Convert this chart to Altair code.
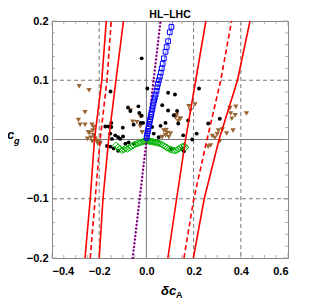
import altair as alt
import pandas as pd

# ---------------- data ----------------
# red bands (x at given y levels)
band_y = [-0.2, -0.1, 0.0, 0.1, 0.2]
red_left_solid_a = [-0.260, -0.238, -0.220, -0.189, -0.170]
red_left_dashed = [-0.238, -0.217, -0.196, -0.167, -0.149]
red_left_solid_b = [-0.200, -0.184, -0.160, -0.129, -0.097]
red_right_solid_a = [0.091, 0.128, 0.166, 0.209, 0.252]
red_right_dashed = [0.159, 0.201, 0.257, 0.315, 0.361]
red_right_solid_b = [0.199, 0.245, 0.308, 0.386, 0.439]

# purple dotted line
purple_x = [-0.058, 0.060]
purple_y = [-0.200, 0.200]

# blue line and squares
blue_line_x = [0.000, 0.112]
blue_line_y = [0.000, 0.200]
blue_sq_x = [0.106, 0.099, 0.092, 0.086, 0.081, 0.074, 0.069, 0.065, 0.061, 0.057,
             0.053, 0.049, 0.046, 0.043, 0.039, 0.036, 0.033, 0.030, 0.027, 0.025,
             0.022, 0.020, 0.018, 0.016, 0.014, 0.012, 0.010, 0.008, 0.006, 0.004,
             0.002, 0.001]
blue_sq_y = [0.190, 0.181, 0.166, 0.156, 0.148, 0.137, 0.128, 0.120, 0.113, 0.106,
             0.100, 0.094, 0.088, 0.082, 0.076, 0.071, 0.066, 0.061, 0.056, 0.051,
             0.046, 0.042, 0.038, 0.034, 0.030, 0.026, 0.022, 0.018, 0.014, 0.010,
             0.006, 0.003]

# black dots
black_x = [-0.020, 0.004, -0.152, 0.092, 0.121, 0.223, 0.067, -0.078, -0.068, -0.034,
           -0.030, -0.020, -0.024, -0.054, 0.092, 0.130, 0.116, 0.311, 0.262, 0.177,
           0.135, 0.060, 0.081, 0.024, 0.031, 0.052, 0.213, 0.156, 0.194, 0.152,
           0.159, 0.105, -0.014,
           -0.174, -0.160, -0.149, -0.149, -0.100, -0.153, -0.132, -0.120, -0.111,
           -0.146, -0.167, -0.153, -0.139, -0.120, -0.089, -0.075, -0.054, -0.099]
black_y = [0.137, 0.086, 0.081, 0.079, 0.076, 0.086, 0.058, 0.054, 0.048, 0.056,
           0.045, 0.040, 0.028, 0.025, 0.049, 0.048, 0.041, 0.035, 0.027, 0.032,
           0.027, 0.023, 0.028, 0.021, 0.010, 0.004, 0.010, 0.007, 0.000, -0.016,
           -0.020, -0.016, 0.028,
           0.022, 0.022, 0.028, 0.021, 0.020, 0.010, 0.007, 0.004, 0.001,
           0.001, -0.011, -0.012, -0.015, -0.019, -0.007, -0.005, -0.007, 0.005]

# brown inverted triangles
brown_x = [-0.285, -0.243, -0.260, -0.288, -0.281, -0.260, -0.231, -0.224, -0.227, -0.241,
           -0.246, -0.224, -0.250, -0.235, -0.217, -0.210, -0.199, -0.206, -0.196, -0.230,
           -0.068, -0.058, -0.040, -0.026, -0.026, -0.018,
           0.074, 0.088, 0.081, 0.067, 0.095, 0.102, 0.084, 0.128, 0.142, 0.123,
           0.145, 0.135, 0.180, 0.206, 0.187,
           0.354, 0.379, 0.357, 0.376, 0.362, 0.424, 0.305, 0.322, 0.340, 0.367,
           0.311, 0.279, 0.272, 0.262, 0.290, 0.300]
brown_y = [0.090, 0.083, 0.046, 0.033, 0.025, 0.025, 0.025, 0.021, 0.015, 0.011,
           0.012, 0.007, 0.001, 0.003, 0.001, -0.002, -0.005, -0.007, -0.007, -0.003,
           0.049, 0.030, 0.029, 0.022, 0.039, 0.012,
           0.015, 0.011, 0.007, 0.004, 0.004, 0.010, 0.016, 0.041, 0.035, 0.037,
           0.035, 0.031, 0.056, 0.059, 0.049,
           0.053, 0.055, 0.044, 0.041, 0.035, 0.044, 0.015, 0.017, 0.010, 0.015,
           -0.003, 0.006, -0.010, -0.012, 0.003, 0.009]

# green open diamonds
green_x = [-0.128, -0.120, -0.112, -0.104, -0.096, -0.088, -0.080, -0.072, -0.064, -0.056,
           -0.048, -0.040, -0.032, -0.024, -0.016, -0.010, -0.005, 0.000, 0.005, 0.010,
           0.015, 0.020, 0.025, 0.030, 0.036, 0.042, 0.048, 0.056, 0.064, 0.072,
           0.080, 0.088, 0.096, 0.104, 0.112, 0.120, 0.128, 0.136, 0.144, 0.152,
           0.160, 0.166]
green_y = [-0.010, -0.013, -0.016, -0.018, -0.017, -0.015, -0.016, -0.014, -0.012, -0.010,
           -0.008, -0.007, -0.006, -0.005, -0.004, -0.003, -0.003, -0.002, -0.002, -0.003,
           -0.003, -0.003, -0.004, -0.004, -0.005, -0.005, -0.006, -0.007, -0.008, -0.010,
           -0.012, -0.014, -0.016, -0.017, -0.018, -0.019, -0.018, -0.016, -0.014, -0.012,
           -0.011, -0.013]

# grid and ticks
grid_x_dashed = [-0.2, 0.2, 0.4]
grid_y_dashed = [-0.1, 0.1]
x_ticks = [-0.4, -0.2, 0.0, 0.2, 0.4, 0.6]
y_ticks = [-0.2, -0.1, 0.0, 0.1, 0.2]
x_minor = [-0.35, -0.3, -0.25, -0.15, -0.1, -0.05, 0.05, 0.1, 0.15, 0.25, 0.3, 0.35, 0.45, 0.5, 0.55]
y_minor = [-0.18, -0.16, -0.14, -0.12, -0.08, -0.06, -0.04, -0.02, 0.02, 0.04, 0.06, 0.08,
           0.12, 0.14, 0.16, 0.18]

# ---------------- build ----------------
W, H = 236, 237
FONT = "Liberation Sans"

xs = alt.Scale(domain=[-0.4, 0.6], nice=False, zero=False)
ys = alt.Scale(domain=[-0.2, 0.2], nice=False, zero=False)
xaxis = alt.Axis(values=x_ticks, format=".1f", title=None, ticks=False, domain=False, grid=False,
                 labelFont=FONT, labelFontWeight="bold", labelFontSize=11, labelColor="black",
                 labelPadding=7)
yaxis = alt.Axis(values=y_ticks, format=".1f", title=None, ticks=False, domain=False, grid=False,
                 labelFont=FONT, labelFontWeight="bold", labelFontSize=11, labelColor="black",
                 labelPadding=4)


def X(f="x"):
    return alt.X(f"{f}:Q", scale=xs, axis=xaxis)


def Y(f="y"):
    return alt.Y(f"{f}:Q", scale=ys, axis=yaxis)


layers = []

# dashed grid
gx = alt.Chart(pd.DataFrame({"x": grid_x_dashed})).mark_rule(
    color="#555555", strokeDash=[4, 3], strokeWidth=0.8).encode(x=X())
gy = alt.Chart(pd.DataFrame({"y": grid_y_dashed})).mark_rule(
    color="#555555", strokeDash=[4, 3], strokeWidth=0.8).encode(y=Y())
zx = alt.Chart(pd.DataFrame({"x": [0.0]})).mark_rule(color="#777777", strokeWidth=1).encode(x=X())
zy = alt.Chart(pd.DataFrame({"y": [0.0]})).mark_rule(color="#777777", strokeWidth=1).encode(y=Y())
layers += [gx, gy, zx, zy]

# frame ticks (inward)
tick_col = "#999999"
dfxM = pd.DataFrame({"x": x_ticks})
dfxm = pd.DataFrame({"x": x_minor})
dfyM = pd.DataFrame({"y": y_ticks})
dfym = pd.DataFrame({"y": y_minor})
for df, L in [(dfxM, 5), (dfxm, 3)]:
    layers.append(alt.Chart(df).mark_rule(color=tick_col, strokeWidth=0.8).encode(
        x=X(), y=alt.value(H), y2=alt.value(H - L)))
    layers.append(alt.Chart(df).mark_rule(color=tick_col, strokeWidth=0.8).encode(
        x=X(), y=alt.value(0), y2=alt.value(L)))
for df, L in [(dfyM, 5), (dfym, 3)]:
    layers.append(alt.Chart(df).mark_rule(color=tick_col, strokeWidth=0.8).encode(
        y=Y(), x=alt.value(0), x2=alt.value(L)))
    layers.append(alt.Chart(df).mark_rule(color=tick_col, strokeWidth=0.8).encode(
        y=Y(), x=alt.value(W), x2=alt.value(W - L)))

# red lines
rows = []
for name, xs_, dashed in [("la", red_left_solid_a, False), ("ld", red_left_dashed, True),
                          ("lb", red_left_solid_b, False), ("ra", red_right_solid_a, False),
                          ("rd", red_right_dashed, True), ("rb", red_right_solid_b, False)]:
    for i, (xv, yv) in enumerate(zip(xs_, band_y)):
        rows.append({"id": name, "x": xv, "y": yv, "o": i, "dashed": dashed})
red = pd.DataFrame(rows)
red_solid = alt.Chart(red[~red.dashed]).mark_line(
    color="#ff0000", strokeWidth=1.6, interpolate="linear").encode(
    x=X(), y=Y(), detail="id:N", order="o:Q")
red_dash = alt.Chart(red[red.dashed]).mark_line(
    color="#ff0000", strokeWidth=1.6, strokeDash=[5, 3], interpolate="linear").encode(
    x=X(), y=Y(), detail="id:N", order="o:Q")

# purple dotted
purple = alt.Chart(pd.DataFrame({"x": purple_x, "y": purple_y, "o": [0, 1]})).mark_line(
    color="#800080", strokeWidth=2.4, strokeDash=[0.1, 3.6], strokeCap="round").encode(
    x=X(), y=Y(), order="o:Q")

# brown triangles
brown = alt.Chart(pd.DataFrame({"x": brown_x, "y": brown_y})).mark_point(
    shape="triangle-down", filled=True, color="#996633", size=28, opacity=1).encode(x=X(), y=Y())

# black dots
black = alt.Chart(pd.DataFrame({"x": black_x, "y": black_y})).mark_point(
    shape="circle", filled=True, color="black", size=15, opacity=1).encode(x=X(), y=Y())

# green diamonds
green = alt.Chart(pd.DataFrame({"x": green_x, "y": green_y})).mark_point(
    shape="diamond", filled=False, color="#00b300", size=44, strokeWidth=1, opacity=1).encode(x=X(), y=Y())

# blue line and squares
blue_line = alt.Chart(pd.DataFrame({"x": blue_line_x, "y": blue_line_y, "o": [0, 1]})).mark_line(
    color="#5a5aff", strokeWidth=0.8).encode(x=X(), y=Y(), order="o:Q")
blue_sq = alt.Chart(pd.DataFrame({"x": blue_sq_x, "y": blue_sq_y})).mark_point(
    shape="square", filled=False, color="#0000ff", size=22, strokeWidth=1, opacity=1).encode(x=X(), y=Y())

layers += [brown, black, green, red_solid, red_dash, purple, blue_line, blue_sq]


# titles as text (with subscripts)
def txt(t, px, py, size, style="italic", align="left"):
    return alt.Chart(pd.DataFrame({"t": [t]})).mark_text(
        font=FONT, fontWeight="bold", fontStyle=style, fontSize=size, color="black",
        align=align, baseline="alphabetic").encode(
        x=alt.value(px), y=alt.value(py), text="t:N")


layers += [
    txt("HL–LHC", W / 2, -3.5, 10.5, "normal", "center"),
    txt("c", -45, 118, 13),
    txt("g", -38, 123, 9),
    txt("δc", 109, 274, 13),
    txt("A", 124, 277, 9, "normal"),
]

chart = alt.layer(*layers).properties(
    width=W, height=H,
    autosize=alt.AutoSizeParams(type="none"),
    padding={"left": 44, "top": 13, "right": 14, "bottom": 41},
).configure_view(stroke="#888888", strokeWidth=1)

chart.save("out.html", embed_options={"renderer": "svg", "actions": False})
